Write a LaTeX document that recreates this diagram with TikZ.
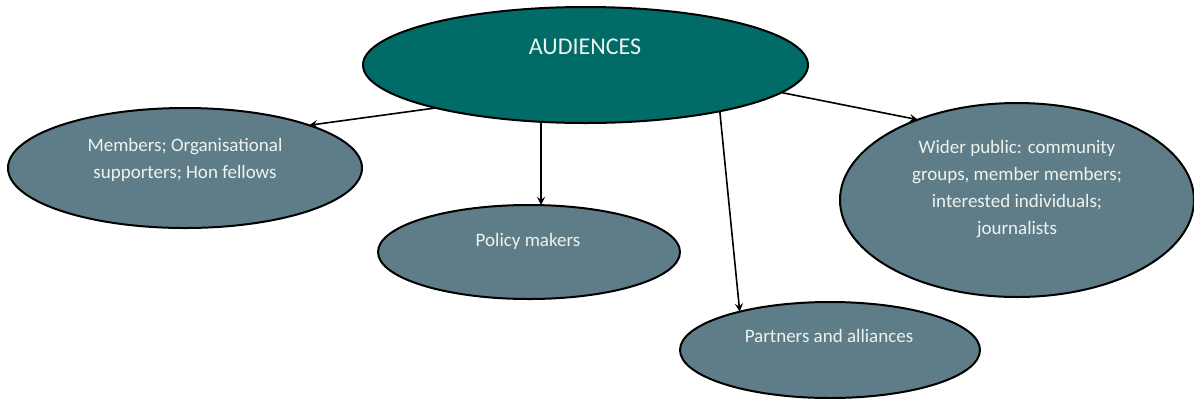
\documentclass[tikz,border=0pt]{standalone}
\usepackage{fontspec}
\setmainfont{Carlito}
\usetikzlibrary{shapes.geometric, arrows}
\definecolor{hubteal}{HTML}{006B67}
\definecolor{slate}{HTML}{5F7D88}
\definecolor{pale}{HTML}{EEF3EE}
\tikzset{
	x=0.5pt, y=-0.5pt, % one unit is one pixel of the sketch
	hub/.style={ellipse, draw, line width=1pt, fill=hubteal, inner sep=0pt, outer sep=0pt}, % the main ellipse
	group/.style={ellipse, draw, line width=1pt, fill=slate, inner sep=0pt, outer sep=0pt}, % every audience
	label text/.style={text=pale, align=center, font=\fontsize{9.5}{13.5}\selectfont}, % words inside
	link/.style={->, >=stealth, line width=0.8pt}, % the arrows
}
\begin{document}
\begin{tikzpicture}
	\useasboundingbox (0,0) rectangle (1194,398);
	\node[hub, minimum width=222.5pt, minimum height=58pt] (aud) at (585.5,65) {};
	\node[group, minimum width=177pt, minimum height=60pt] (mem) at (185,168) {};
	\node[group, minimum width=151pt, minimum height=47pt] (pol) at (529,252) {};
	\node[group, minimum width=150pt, minimum height=48pt] (par) at (830,350) {};
	\node[group, minimum width=177pt, minimum height=97pt] (pub) at (1017,200) {};

	\node[label text, font=\fontsize{12}{14}\selectfont] (audT) at (585,47) {AUDIENCES};
	\node[label text] (memT) at (185,160) {Members; Organisational\\supporters; Hon fellows};
	\node[label text] (polT) at (528,241) {Policy makers};
	\node[label text] (parT) at (829,336) {Partners and alliances};
	\node[label text] (pubT) at (1017,189) {Wider public: community\\groups, member members;\\interested individuals;\\journalists};

	\draw[link] (aud.196.5) -- (mem.19.7);
	\draw[link] (aud.232) -- (aud.232 |- pol.north);
	\draw[link] (aud.341) -- (par.157.6);
	\draw[link] (aud.352) -- (pub.141.6);
\end{tikzpicture}
\end{document}
